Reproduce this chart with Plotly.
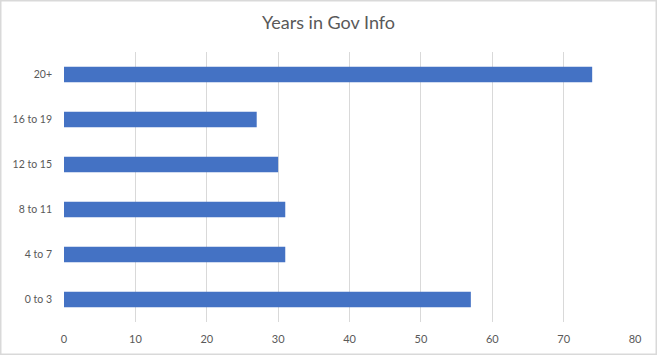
import plotly.graph_objects as go

categories = ["0 to 3", "4 to 7", "8 to 11", "12 to 15", "16 to 19", "20+"]
values = [57, 31, 31, 30, 27, 74]
x_ticks = [0, 10, 20, 30, 40, 50, 60, 70, 80]
title_text = "Years in Gov Info"

W, H = 657, 355
ml, mr, mt, mb = 64, 22, 52, 33

fig = go.Figure(go.Bar(
    y=categories, x=values, orientation="h",
    marker=dict(color="#4472C4", line=dict(width=0)),
    hoverinfo="x+y",
))

fig.update_layout(
    width=W, height=H,
    margin=dict(l=ml, r=mr, t=mt, b=mb, pad=0, autoexpand=False),
    paper_bgcolor="white", plot_bgcolor="white",
    font=dict(family="Lato, Carlito, Calibri, sans-serif", color="#595959", size=11),
    title=dict(text=title_text, x=0.5, xanchor="center", xref="container",
               y=1 - 23 / H, yanchor="middle", yref="container",
               font=dict(size=18, color="#595959")),
    bargap=0.66,
    showlegend=False,
    xaxis=dict(range=[0, 80], tickvals=x_ticks, showgrid=True,
               gridcolor="#d9d9d9", gridwidth=1, zeroline=False,
               showline=False, ticks="", tickfont=dict(size=11, color="#595959"),
               ticklabelstandoff=9, automargin=False),
    yaxis=dict(categoryorder="array", categoryarray=categories,
               showgrid=False, zeroline=False, showline=False, ticks="",
               tickfont=dict(size=10.5, color="#595959"), ticklabelstandoff=11,
               automargin=False),
)

# outer chart border
pw = W - ml - mr
ph = H - mt - mb
fig.add_shape(type="rect", xref="paper", yref="paper",
              x0=-(ml - 0.75) / pw, x1=1 + (mr - 0.75) / pw,
              y0=-(mb - 0.75) / ph, y1=1 + (mt - 0.75) / ph,
              line=dict(color="#d9d9d9", width=1.5), layer="below")

fig.write_html("out.html",
               config={"displayModeBar": False},
               post_script="document.body.style.margin='0';document.body.style.padding='0';")
